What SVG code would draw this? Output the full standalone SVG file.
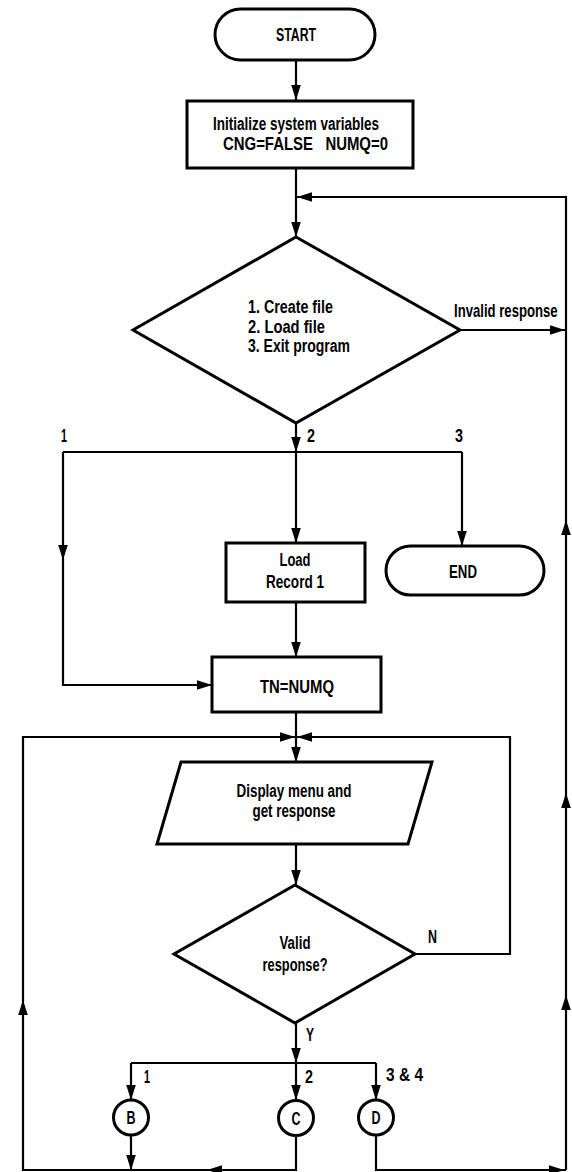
<svg xmlns="http://www.w3.org/2000/svg" xmlns:xlink="http://www.w3.org/1999/xlink" width="572" height="1172" viewBox="0 0 572 1172">
<style>
.shape{fill:#fff;stroke:#000;stroke-width:3;stroke-linejoin:miter}
.ln{fill:none;stroke:#000;stroke-width:2.2}
.ah{fill:#000;stroke:none}
text{font-family:"Liberation Sans Narrow","Liberation Sans",Arial,sans-serif;font-weight:bold;font-size:18px;fill:#000;white-space:pre}
.c{text-anchor:middle}
</style>
<defs>
<path id="ah" d="M0,0 L-15,-4.8 L-15,4.8 Z"/>
</defs>
<rect width="572" height="1172" fill="#fff"/>
<g id="connectors">
<path class="ln" d="M296,60 V100"/>
<path class="ln" d="M296,168 V236"/>
<path class="ln" d="M566,1170 V197 H297"/>
<path class="ln" d="M460,330 H566"/>
<path class="ln" d="M296,423 V452"/>
<path class="ln" d="M63,452 H462"/>
<path class="ln" d="M296,452 V542"/>
<path class="ln" d="M462,452 V545"/>
<path class="ln" d="M63,452 V685 H211"/>
<path class="ln" d="M296,602 V656"/>
<path class="ln" d="M296,712 V761"/>
<path class="ln" d="M296,1135 V1170 H23 V737 H296"/>
<path class="ln" d="M415,954 H510 V737 H296"/>
<path class="ln" d="M296,844 V884"/>
<path class="ln" d="M296,1023 V1063"/>
<path class="ln" d="M131,1063 H376"/>
<path class="ln" d="M131,1063 V1100"/>
<path class="ln" d="M296,1063 V1100"/>
<path class="ln" d="M376,1063 V1100"/>
<path class="ln" d="M131,1135 V1170"/>
<path class="ln" d="M376,1135 V1170 H566"/>
<g class="ah">
<use xlink:href="#ah" transform="translate(296,100) rotate(90)"/>
<use xlink:href="#ah" transform="translate(296,237) rotate(90)"/>
<use xlink:href="#ah" transform="translate(297,197) rotate(180)"/>
<use xlink:href="#ah" transform="translate(565,330)"/>
<use xlink:href="#ah" transform="translate(566,520) rotate(-90)"/>
<use xlink:href="#ah" transform="translate(566,793) rotate(-90)"/>
<use xlink:href="#ah" transform="translate(566,995) rotate(-90)"/>
<use xlink:href="#ah" transform="translate(296,452) rotate(90)"/>
<use xlink:href="#ah" transform="translate(296,543) rotate(90)"/>
<use xlink:href="#ah" transform="translate(462,546) rotate(90)"/>
<use xlink:href="#ah" transform="translate(63,560) rotate(90)"/>
<use xlink:href="#ah" transform="translate(212,685)"/>
<use xlink:href="#ah" transform="translate(296,657) rotate(90)"/>
<use xlink:href="#ah" transform="translate(295,737)"/>
<use xlink:href="#ah" transform="translate(297,737) rotate(180)"/>
<use xlink:href="#ah" transform="translate(296,762) rotate(90)"/>
<use xlink:href="#ah" transform="translate(23,1000) rotate(-90)"/>
<use xlink:href="#ah" transform="translate(207,1170) rotate(180)"/>
<use xlink:href="#ah" transform="translate(296,885) rotate(90)"/>
<use xlink:href="#ah" transform="translate(296,1063) rotate(90)"/>
<use xlink:href="#ah" transform="translate(131,1100) rotate(90)"/>
<use xlink:href="#ah" transform="translate(296,1100) rotate(90)"/>
<use xlink:href="#ah" transform="translate(376,1100) rotate(90)"/>
<use xlink:href="#ah" transform="translate(131,1170) rotate(90)"/>
<use xlink:href="#ah" transform="translate(564,1170)"/>
</g>
<text transform="translate(454,317) scale(0.73,1)">Invalid response</text>
<text x="61" y="442" textLength="6" lengthAdjust="spacingAndGlyphs">1</text>
<text x="307" y="442" textLength="8" lengthAdjust="spacingAndGlyphs">2</text>
<text x="455" y="442" textLength="8" lengthAdjust="spacingAndGlyphs">3</text>
<text x="428" y="943" textLength="9" lengthAdjust="spacingAndGlyphs">N</text>
<text x="306" y="1041" textLength="8" lengthAdjust="spacingAndGlyphs">Y</text>
<text x="144" y="1083" textLength="6" lengthAdjust="spacingAndGlyphs">1</text>
<text x="305" y="1083" textLength="8" lengthAdjust="spacingAndGlyphs">2</text>
<text x="386" y="1081" textLength="37" lengthAdjust="spacingAndGlyphs">3 &amp; 4</text>
</g>
<g id="start">
<rect class="shape" x="215" y="9" width="160" height="51" rx="25.5"/>
<text class="c" x="296" y="41" textLength="40" lengthAdjust="spacingAndGlyphs">START</text>
</g>
<g id="init">
<rect class="shape" x="187" y="101" width="226" height="67"/>
<text x="213" y="130" textLength="166" lengthAdjust="spacingAndGlyphs">Initialize system variables</text>
<text x="223" y="150" textLength="165" lengthAdjust="spacingAndGlyphs">CNG=FALSE   NUMQ=0</text>
</g>
<g id="menu1">
<polygon class="shape" points="296,237 460,330 296,423 133,330"/>
<text x="248" y="313" textLength="85" lengthAdjust="spacingAndGlyphs">1. Create file</text>
<text x="248" y="333" textLength="77" lengthAdjust="spacingAndGlyphs">2. Load file</text>
<text x="248" y="352" textLength="102" lengthAdjust="spacingAndGlyphs">3. Exit program</text>
</g>
<g id="load">
<rect class="shape" x="226" y="543" width="139" height="59"/>
<text class="c" x="295" y="566" textLength="31" lengthAdjust="spacingAndGlyphs">Load</text>
<text class="c" x="295" y="588" textLength="58" lengthAdjust="spacingAndGlyphs">Record 1</text>
</g>
<g id="end">
<rect class="shape" x="386" y="546" width="158" height="49" rx="24.5"/>
<text class="c" x="463" y="578" textLength="28" lengthAdjust="spacingAndGlyphs">END</text>
</g>
<g id="tn">
<rect class="shape" x="212" y="657" width="169" height="55"/>
<text class="c" x="297" y="693" textLength="74" lengthAdjust="spacingAndGlyphs">TN=NUMQ</text>
</g>
<g id="display">
<polygon class="shape" points="181,762 432,762 408,844 157,844"/>
<text class="c" x="294" y="797" textLength="115" lengthAdjust="spacingAndGlyphs">Display menu and</text>
<text class="c" x="294" y="817" textLength="83" lengthAdjust="spacingAndGlyphs">get response</text>
</g>
<g id="valid">
<polygon class="shape" points="295,885 415,954 295,1023 174,954"/>
<text class="c" x="295" y="949" textLength="31" lengthAdjust="spacingAndGlyphs">Valid</text>
<text class="c" x="295" y="971" textLength="65" lengthAdjust="spacingAndGlyphs">response?</text>
</g>
<g id="connB">
<circle class="shape" cx="131" cy="1117.5" r="17.5" stroke-width="2.5"/>
<text class="c" x="131" y="1124" textLength="9" lengthAdjust="spacingAndGlyphs">B</text>
</g>
<g id="connC">
<circle class="shape" cx="296" cy="1118" r="17.5" stroke-width="2.5"/>
<text class="c" x="296" y="1125" textLength="9" lengthAdjust="spacingAndGlyphs">C</text>
</g>
<g id="connD">
<circle class="shape" cx="376" cy="1117.5" r="17.5" stroke-width="2.5"/>
<text class="c" x="376" y="1124" textLength="9" lengthAdjust="spacingAndGlyphs">D</text>
</g>
</svg>
